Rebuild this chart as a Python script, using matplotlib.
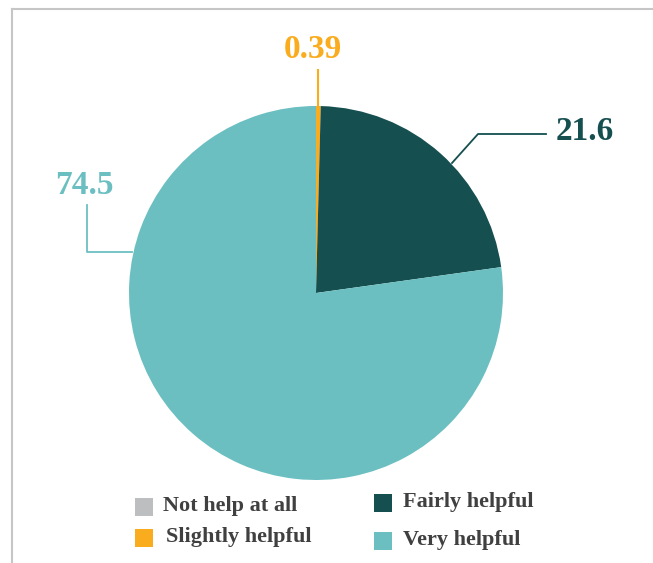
import matplotlib.pyplot as plt
from matplotlib.patches import Rectangle

# Survey answers (percent)
categories = ['Not help at all', 'Slightly helpful', 'Fairly helpful', 'Very helpful']
values = [0.0, 0.39, 21.6, 74.5]
colors = ['#BDBEC0', '#F9AC1E', '#154F50', '#6BBFC1']

W, H = 653, 563
plt.rcParams['font.family'] = ['Liberation Serif', 'DejaVu Serif']
plt.rcParams['font.weight'] = 'bold'

fig = plt.figure(figsize=(W / 100, H / 100), dpi=100)
ax = fig.add_axes([0, 0, 1, 1])

def py(y):
    # pixel row (top-down) -> axis y (bottom-up)
    return H - y

# Pie, clockwise from 12 o'clock
ax.pie(values, colors=colors, startangle=90, counterclock=False,
       center=(316, py(293)), radius=187, frame=True,
       wedgeprops=dict(linewidth=0))
ax.set_xlim(0, W)
ax.set_ylim(0, H)
ax.set_aspect('equal')
ax.axis('off')

# Value labels with leader lines
ax.plot([318, 318], [py(70), py(107)], color=colors[1], lw=1.5)
ax.text(313, py(50), f'{values[1]:.2f}', color=colors[1], fontsize=24,
        ha='center', va='center', fontweight='bold')

ax.plot([452, 478, 546], [py(163), py(134), py(134)], color=colors[2], lw=1.3)
ax.text(556, py(131), f'{values[2]:.1f}', color=colors[2], fontsize=24,
        ha='left', va='center', fontweight='bold')

ax.plot([87, 87, 132], [py(205), py(252), py(252)], color=colors[3], lw=1.3)
ax.text(84, py(185), f'{values[3]:.1f}', color=colors[3], fontsize=24,
        ha='center', va='center', fontweight='bold')

# Legend, two columns
legend_pos = [(135, 507), (135, 538), (374, 503), (374, 541)]
text_x = [163, 166, 403, 403]
for name, col, (mx, my), tx in zip(categories, colors, legend_pos, text_x):
    ax.add_patch(Rectangle((mx, py(my) - 9), 18, 18, color=col, lw=0))
    ax.text(tx, py(my) + 1, name, color='#404040', fontsize=16,
            ha='left', va='center', fontweight='bold')

# Chart area border (top and left)
ax.plot([12, 12], [0, py(9)], color='#C6C6C6', lw=1.5)
ax.plot([12, W], [py(9), py(9)], color='#C6C6C6', lw=1.5)

fig.savefig('out.png', dpi=100, facecolor='white')
